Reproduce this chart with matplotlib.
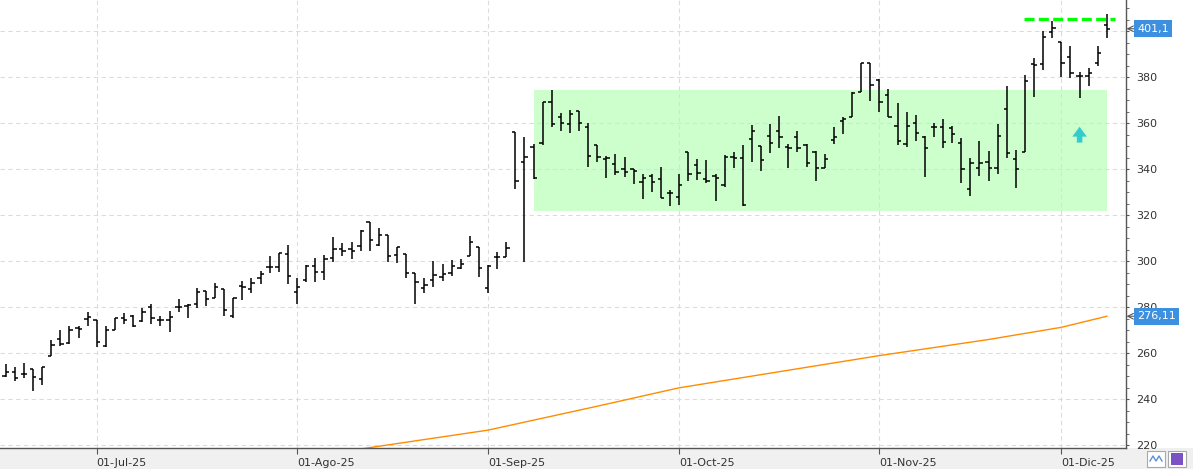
import numpy as np
import matplotlib
matplotlib.use('Agg')
import matplotlib.pyplot as plt
from matplotlib.ticker import MultipleLocator, FixedLocator, FuncFormatter
from matplotlib.patches import Rectangle

# OHLC diario (17-jun-25 .. 05-dic-25)
opens = [250.3, 251.7, 251.0, 253.2, 248.7, 258.7, 266.2, 264.5, 271.0, 274.9,
         274.5, 263.3, 270.3, 275.4, 276.4, 273.9, 280.0, 274.5, 274.5, 280.3,
         280.7, 281.3, 286.9, 283.9, 288.0, 276.4, 289.4, 288.0, 292.6, 297.4,
         297.4, 303.2, 286.5, 291.9, 297.8, 295.5, 301.3, 305.4, 305.4, 306.8,
         317.2, 307.1, 311.4, 302.8, 303.2, 294.9, 288.3, 291.9, 293.0, 294.8,
         297.0, 302.5, 306.3, 288.2, 301.9, 302.0, 356.4, 343.3, 349.9, 351.3,
         369.4, 362.6, 359.7, 365.5, 358.6, 350.4, 344.5, 342.2, 340.0, 340.0,
         334.3, 337.2, 335.7, 329.9, 328.1, 347.4, 341.9, 335.7, 337.1, 333.3,
         345.5, 344.8, 353.0, 350.3, 354.5, 356.7, 349.6, 353.9, 350.6, 347.5,
         340.4, 352.8, 361.2, 362.6, 373.8, 386.4, 378.8, 372.3, 359.0, 350.9,
         360.0, 354.2, 358.3, 358.3, 358.1, 351.3, 331.3, 340.4, 343.0, 340.4,
         366.1, 344.3, 347.7, 385.8, 385.8, 399.6, 395.2, 388.7, 380.6, 380.6,
         386.1, 402.8]
highs = [255.4, 253.9, 255.8, 253.2, 254.0, 265.8, 270.1, 271.7, 271.7, 277.8,
         274.5, 271.7, 275.5, 277.4, 276.7, 279.7, 281.3, 276.4, 278.3, 283.6,
         281.3, 288.4, 287.2, 290.6, 288.0, 283.9, 291.6, 292.6, 295.8, 302.2,
         303.6, 307.1, 292.8, 298.6, 301.3, 302.9, 310.6, 308.0, 308.3, 313.6,
         317.2, 314.3, 311.4, 306.1, 303.2, 294.9, 292.6, 300.0, 298.8, 300.6,
         300.9, 311.0, 306.3, 298.4, 304.2, 308.3, 356.4, 353.9, 350.9, 369.4,
         374.5, 364.3, 365.8, 365.5, 360.0, 350.4, 345.9, 346.7, 345.2, 340.0,
         337.8, 337.8, 340.9, 331.0, 338.0, 347.4, 344.5, 344.1, 338.0, 346.1,
         347.4, 350.4, 359.3, 350.3, 359.7, 363.2, 350.9, 356.7, 350.9, 348.0,
         346.7, 358.3, 362.9, 373.8, 386.4, 386.4, 379.1, 374.8, 369.0, 365.1,
         363.6, 354.5, 360.0, 361.9, 358.8, 353.8, 345.1, 352.3, 348.0, 359.7,
         376.2, 348.4, 381.0, 388.6, 400.1, 404.6, 395.2, 393.6, 382.2, 383.9,
         393.6, 407.5]
lows = [249.6, 248.0, 249.1, 243.8, 246.4, 258.7, 263.3, 263.9, 266.8, 272.0,
        262.6, 262.6, 270.3, 272.6, 271.4, 273.5, 272.6, 271.7, 269.4, 277.8,
        275.5, 279.9, 280.7, 283.9, 276.4, 275.2, 283.3, 286.1, 290.1, 294.8,
        295.2, 290.1, 281.4, 291.2, 291.2, 292.0, 299.6, 302.5, 301.0, 304.6,
        304.6, 306.8, 299.9, 299.1, 292.6, 281.6, 286.1, 289.0, 291.6, 293.8,
        296.5, 302.5, 293.3, 286.3, 296.5, 302.0, 331.3, 299.7, 335.7, 350.6,
        358.6, 356.8, 355.9, 356.8, 341.2, 343.3, 336.4, 337.5, 336.8, 333.6,
        327.0, 330.1, 327.7, 324.1, 324.3, 335.1, 335.4, 334.2, 326.4, 332.5,
        340.4, 324.0, 343.3, 339.4, 347.2, 349.4, 340.4, 347.7, 341.2, 335.1,
        340.4, 350.9, 355.2, 362.6, 373.5, 369.9, 365.1, 362.6, 350.6, 349.9,
        352.5, 336.8, 354.2, 349.4, 351.6, 333.9, 328.6, 337.2, 335.1, 337.8,
        345.1, 331.7, 347.7, 371.6, 383.2, 397.2, 380.3, 379.9, 370.9, 376.4,
        385.1, 397.2]
closes = [251.7, 249.1, 251.0, 249.9, 254.0, 263.5, 264.1, 270.3, 270.7, 275.9,
          264.8, 270.3, 275.4, 274.5, 271.7, 278.1, 275.2, 274.5, 275.7, 280.3,
          281.0, 286.8, 283.6, 288.7, 278.8, 283.9, 288.7, 290.6, 294.5, 297.4,
          303.5, 293.5, 288.7, 298.1, 295.5, 301.0, 305.4, 304.6, 304.6, 313.0,
          309.3, 311.4, 302.2, 306.1, 294.8, 291.2, 289.7, 294.1, 294.5, 298.1,
          299.0, 308.3, 297.0, 298.0, 302.0, 305.7, 334.9, 345.5, 336.4, 369.4,
          359.7, 360.0, 363.9, 360.0, 345.9, 345.2, 344.9, 338.7, 338.7, 339.4,
          336.1, 334.3, 327.7, 329.6, 333.2, 338.0, 338.3, 334.9, 336.1, 345.2,
          344.8, 324.3, 356.7, 344.1, 351.3, 353.9, 349.1, 349.1, 342.6, 340.4,
          344.3, 353.9, 361.7, 373.3, 386.1, 376.7, 369.4, 362.6, 352.3, 358.8,
          355.7, 349.4, 358.3, 351.7, 355.2, 340.0, 342.6, 342.6, 340.4, 354.5,
          347.0, 340.0, 378.4, 385.4, 397.4, 401.3, 386.1, 382.0, 380.7, 381.7,
          390.4, 401.1]

# media movil (lectura en algunos puntos)
ma_idx = [39, 40, 53, 65, 74, 96, 108, 116, 121]
ma_val = [218.4, 219.0, 226.6, 237.0, 245.0, 259.0, 266.0, 271.3, 276.11]

month_idx = [10, 32, 53, 74, 96, 116]
month_labels = ['01-Jul-25', '01-Ago-25', '01-Sep-25', '01-Oct-25', '01-Nov-25', '01-Dic-25']

# zona lateral, resistencia y flecha
zone_from, zone_to = 58, 121
zone_low, zone_high = 322.0, 374.5
resist_level = 405.2
resist_from, resist_to = 111.9, 121.9
arrow_idx, arrow_top, arrow_neck, arrow_base = 118, 358.5, 354.2, 351.6

last_price = 401.1
ma_last = 276.11

W, H = 1193, 469
fig = plt.figure(figsize=(W / 100, H / 100), dpi=100)
fig.patch.set_facecolor('white')
fig.add_artist(Rectangle((0, 0), 1, 21 / H, transform=fig.transFigure,
                         fc='#f0f0f0', ec='none', zorder=0))
ax = fig.add_axes([0, 21 / H, 1126 / W, 448 / H])

x = np.arange(len(closes))
ax.add_patch(Rectangle((zone_from, zone_low), zone_to - zone_from, zone_high - zone_low,
                       fc='#ccffcc', ec='none', zorder=0.5))
ax.vlines(x, lows, highs, color='black', lw=1.1, zorder=3)
ax.hlines(opens, x - 0.36, x, color='black', lw=1.1, zorder=3)
ax.hlines(closes, x, x + 0.36, color='black', lw=1.1, zorder=3)

ax.plot(ma_idx, ma_val, color='#ff8c00', lw=1.0, zorder=2)

ax.plot([resist_from, resist_to], [resist_level, resist_level], color='#00ff00',
        lw=2.4, ls=(0, (3, 1.3)), zorder=4)

aw, sw = 0.8, 0.3
ax.fill([arrow_idx, arrow_idx + aw, arrow_idx + sw, arrow_idx + sw,
         arrow_idx - sw, arrow_idx - sw, arrow_idx - aw],
        [arrow_top, arrow_neck, arrow_neck, arrow_base, arrow_base, arrow_neck, arrow_neck],
        color='#33cccc', ec='none', zorder=4)

ax.set_xlim(-0.63, 123.1)
ax.set_ylim(218.83, 413.6)

ax.yaxis.tick_right()
ax.yaxis.set_major_locator(MultipleLocator(20))
ax.yaxis.set_minor_locator(MultipleLocator(5))
# la etiqueta 400 queda tapada por el precio actual
ax.yaxis.set_major_formatter(FuncFormatter(lambda v, p: '' if round(v) == 400 else f'{v:.0f}'))
ax.xaxis.set_major_locator(FixedLocator(month_idx))
ax.set_xticklabels(month_labels)
for lab in ax.get_xticklabels():
    lab.set_ha('left')
ax.tick_params(axis='y', which='both', length=2.5, pad=4.5, colors='#555555',
               labelcolor='#333333', labelsize=8)
ax.tick_params(axis='x', length=4, pad=3, colors='#555555', labelcolor='#333333',
               labelsize=8)

ax.grid(True, which='major', ls=(0, (4, 3)), color='#dcdcdc', lw=0.8, zorder=1)
ax.set_axisbelow(True)
for s in ['left', 'top']:
    ax.spines[s].set_visible(False)
for s in ['right', 'bottom']:
    ax.spines[s].set_color('#555555')
    ax.spines[s].set_linewidth(1.0)

# etiquetas de precio a la derecha
ytr = ax.get_yaxis_transform()
for val, txt in [(last_price, '401,1'), (ma_last, '276,11')]:
    ax.annotate('', xy=(1.0005, val), xytext=(1.0075, val), xycoords=ytr,
                arrowprops=dict(arrowstyle='->', color='#555555', lw=0.8,
                                shrinkA=0, shrinkB=0), annotation_clip=False)
    ax.text(1.0098, val, txt, transform=ytr, va='center', ha='left', color='white',
            fontsize=8, clip_on=False, zorder=10,
            bbox=dict(boxstyle='square,pad=0.3', fc='#3d8fe0', ec='none'))

# iconos abajo a la derecha
for x0 in [1147, 1168]:
    fig.add_artist(Rectangle((x0 / W, 2 / H), 18 / W, 16 / H, transform=fig.transFigure,
                             fc='white', ec='#a8a8a8', lw=0.8, zorder=2))
fig.add_artist(plt.Line2D([1150 / W, 1153 / W, 1156 / W, 1159 / W, 1162 / W],
                          [8 / H, 13 / H, 8 / H, 13 / H, 8 / H],
                          transform=fig.transFigure, color='#5b8fd6', lw=1.0, zorder=3))
fig.add_artist(Rectangle((1171 / W, 4 / H), 12 / W, 12 / H, transform=fig.transFigure,
                         fc='#7b52c4', ec='none', zorder=3))

fig.savefig('out.png', dpi=100)
